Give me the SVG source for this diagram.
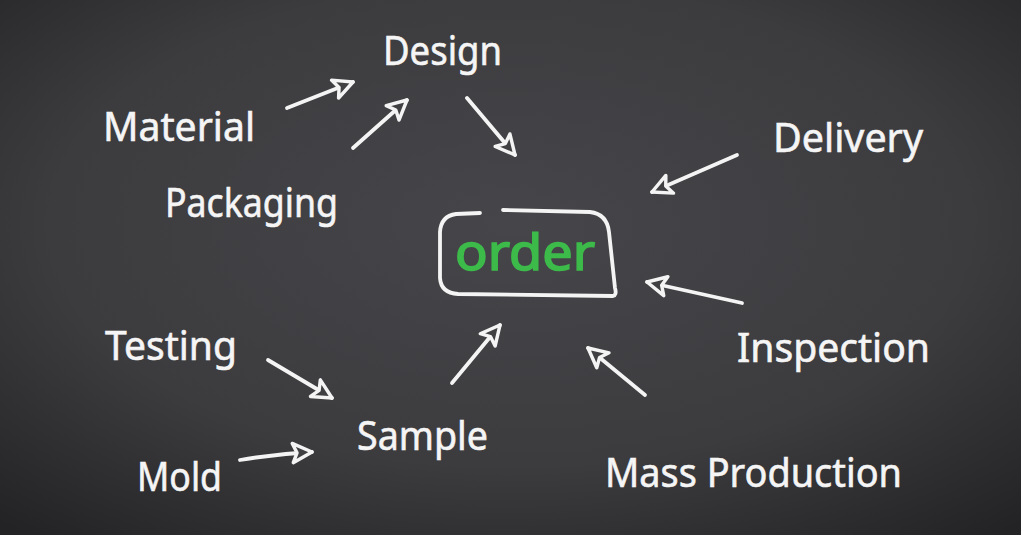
<svg xmlns="http://www.w3.org/2000/svg" width="1021" height="535" viewBox="0 0 1021 535">
<defs>
<radialGradient id="bg" cx="0.5" cy="0.42" r="0.75">
<stop offset="0" stop-color="#46464a"/>
<stop offset="0.6" stop-color="#3c3c3f"/>
<stop offset="1" stop-color="#232325"/>
</radialGradient>
<marker id="head" markerUnits="userSpaceOnUse" markerWidth="30" markerHeight="30" viewBox="-24 -12 28 24" refX="0" refY="0" orient="auto">
<path d="M0,0 L-18,-9 L-14,0 L-18,9 Z" fill="#404043" stroke="#f4f4f4" stroke-width="3.2" stroke-linejoin="round"/>
</marker>
<style>
.lbl{font-family:"Noto Sans","DejaVu Sans",sans-serif;font-size:40px;fill:#f5f5f5;stroke:#f5f5f5;stroke-width:0.6}
.ord{font-family:"Noto Sans","DejaVu Sans",sans-serif;font-size:50px;fill:#3dbb4a;stroke:#3dbb4a;stroke-width:1.6}
.arr{fill:none;stroke:#f4f4f4;stroke-width:3.8;stroke-linecap:round;marker-end:url(#head)}
.box{fill:none;stroke:#f4f4f4;stroke-width:3.8;stroke-linecap:round;stroke-linejoin:round}
</style>
</defs>
<rect width="1021" height="535" fill="url(#bg)"/>
<g id="connectors">
<path class="arr" d="M287,108 L353,82"/>
<path class="arr" d="M353,148 L407,100"/>
<path class="arr" d="M467,98 L515,155"/>
<path class="arr" d="M737,155 L652,192"/>
<path class="arr" d="M742,303 L647,282"/>
<path class="arr" d="M268,360 L332,398"/>
<path class="arr" d="M452,383 L500,325"/>
<path class="arr" d="M645,395 L588,348"/>
<path class="arr" d="M240,460 Q275,454 312,452"/>
</g>
<g id="order">
<path class="box" d="M480,213 L456,214 Q441,216 440,232 L440,278 Q441,293 458,294 L613,296 Q617,295 615,288 L609,232 Q607,214 590,212 L503,210"/>
<text class="ord" x="455" y="270" textLength="140" lengthAdjust="spacingAndGlyphs">order</text>
</g>
<g id="design"><text class="lbl" x="383" y="65" textLength="119" lengthAdjust="spacingAndGlyphs">Design</text></g>
<g id="material"><text class="lbl" x="103" y="141" textLength="152" lengthAdjust="spacingAndGlyphs">Material</text></g>
<g id="packaging"><text class="lbl" x="165" y="217" textLength="173" lengthAdjust="spacingAndGlyphs">Packaging</text></g>
<g id="delivery"><text class="lbl" x="773" y="152" textLength="150" lengthAdjust="spacingAndGlyphs">Delivery</text></g>
<g id="testing"><text class="lbl" x="105" y="360" textLength="132" lengthAdjust="spacingAndGlyphs">Testing</text></g>
<g id="inspection"><text class="lbl" x="737" y="362" textLength="193" lengthAdjust="spacingAndGlyphs">Inspection</text></g>
<g id="sample"><text class="lbl" x="357" y="450" textLength="131" lengthAdjust="spacingAndGlyphs">Sample</text></g>
<g id="mold"><text class="lbl" x="137" y="491" textLength="85" lengthAdjust="spacingAndGlyphs">Mold</text></g>
<g id="mass-production"><text class="lbl" x="605" y="487" textLength="297" lengthAdjust="spacingAndGlyphs">Mass Production</text></g>
</svg>
